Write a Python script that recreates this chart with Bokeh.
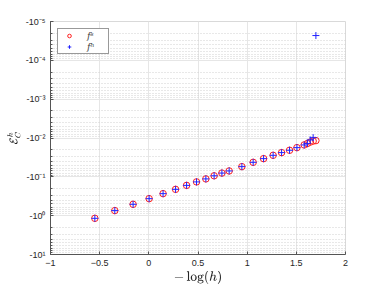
from bokeh.plotting import figure
from bokeh.models import Range1d, SingleIntervalTicker, LogTicker, CustomJSTickFormatter, Legend, LegendItem, ColumnDataSource
from bokeh.embed import file_html
from bokeh.resources import INLINE

# data: -log(h) and error E_C^h (negative values)
neg_log_h = [-0.549, -0.346, -0.160, 0.003, 0.145, 0.272, 0.384, 0.485, 0.580, 0.664,
             0.743, 0.817, 0.946, 1.061, 1.167, 1.264, 1.350, 1.431, 1.506, 1.580,
             1.612, 1.641, 1.671, 1.699]
err_fs = [-1.17, -0.74, -0.51, -0.365, -0.271, -0.21, -0.166, -0.135, -0.113, -0.094,
          -0.080, -0.0705, -0.0546, -0.0423, -0.034, -0.0279, -0.0238, -0.0207, -0.0177, -0.0151,
          -0.0139, -0.01276, -0.0120, -0.01167]
err_fh = [-1.17, -0.74, -0.51, -0.365, -0.271, -0.21, -0.166, -0.135, -0.113, -0.094,
          -0.080, -0.0705, -0.0546, -0.0423, -0.034, -0.0279, -0.0238, -0.0207, -0.0177, -0.0151,
          -0.0139, -0.0112, -0.0098, -0.000023]
labels = ["f\u02e2", "f\u02b0"]

src_s = ColumnDataSource(dict(x=neg_log_h, y=[-v for v in err_fs]))
src_h = ColumnDataSource(dict(x=neg_log_h, y=[-v for v in err_fh]))

p = figure(frame_width=295, frame_height=233, output_backend="svg", toolbar_location=None,
           x_range=Range1d(-1, 2), y_range=Range1d(10, 1e-5), y_axis_type="log",
           min_border_left=50, min_border_right=28, min_border_top=21, min_border_bottom=30)
p.background_fill_color = "white"
p.border_fill_color = "white"
p.outline_line_color = "#d9d9d9"

r1 = p.scatter("x", "y", source=src_s, marker="circle", size=6.5, fill_color=None,
               line_color="#ff2020", line_width=1)
r2 = p.scatter("x", "y", source=src_h, marker="cross", size=7,
               line_color="#2020ff", line_width=1)

# x axis
p.xaxis.ticker = SingleIntervalTicker(interval=0.5, num_minor_ticks=0)
p.xaxis.axis_label = r"$$-\log(h)$$"
p.xaxis.axis_label_text_font_size = "10px"
p.xaxis.axis_label_standoff = 2
# y axis
p.yaxis.ticker = LogTicker(num_minor_ticks=10)
p.yaxis.formatter = CustomJSTickFormatter(code="""
const e = Math.round(Math.log10(tick));
const sup = {'-':'\u207b','0':'\u2070','1':'\u00b9','2':'\u00b2','3':'\u00b3','4':'\u2074','5':'\u2075','6':'\u2076','7':'\u2077','8':'\u2078','9':'\u2079'};
return '-10' + String(e).split('').map(c => sup[c]).join('');
""")
p.yaxis.axis_label = r"$$\mathcal{E}_C^h$$"
p.yaxis.axis_label_text_font_size = "9px"
p.yaxis.axis_label_standoff = 2

for ax in (p.xaxis[0], p.yaxis[0]):
    ax.major_label_text_font = "Liberation Sans"
    ax.major_label_text_font_size = "9px"
    ax.major_label_text_color = "#262626"
    ax.axis_line_color = "#555555"
    ax.major_tick_line_color = "#555555"
    ax.minor_tick_line_color = "#555555"
    ax.major_tick_in = 3
    ax.major_tick_out = 0
    ax.minor_tick_in = 2
    ax.minor_tick_out = 0
    ax.major_label_standoff = 5
    ax.axis_label_text_color = "#262626"

p.xgrid.grid_line_color = "#e6e6e6"
p.xgrid.minor_grid_line_color = None
p.ygrid.grid_line_color = "#e6e6e6"
p.ygrid.minor_grid_line_color = "#d0d0d0"
p.ygrid.minor_grid_line_dash = "1 2"

legend = Legend(items=[LegendItem(label=labels[0], renderers=[r1]),
                       LegendItem(label=labels[1], renderers=[r2])],
                location="top_left")
legend.label_text_font = "DejaVu Serif"
legend.label_text_font_style = "italic"
legend.label_text_font_size = "9.5px"
legend.border_line_color = "#333333"
legend.border_line_width = 1
legend.background_fill_color = "white"
legend.background_fill_alpha = 1
legend.margin = 7
legend.padding = 1
legend.spacing = 0
legend.glyph_height = 9
legend.glyph_width = 20
legend.label_height = 9
legend.label_standoff = 8
p.add_layout(legend)

open("out.html", "w").write(file_html(p, INLINE))
